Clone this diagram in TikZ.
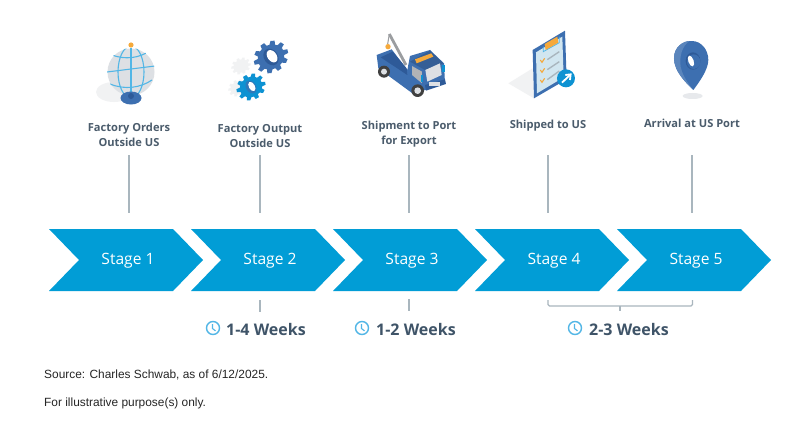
\documentclass[tikz,border=0pt]{standalone}
\usepackage{fontspec}
\setmainfont{Open Sans}
\newfontfamily\srcfont{Liberation Sans}
\definecolor{chev}{HTML}{019DD6}
\definecolor{lbl}{HTML}{4B5C6C}
\definecolor{wk}{HTML}{3F5468}
\definecolor{rule}{HTML}{A9B6BE}
\definecolor{navy}{HTML}{3D6FB0}
\definecolor{navyd}{HTML}{2E5A98}
\definecolor{sky}{HTML}{0D92D2}
\definecolor{skyl}{HTML}{52B6E6}
\definecolor{org}{HTML}{F5A93B}
\definecolor{ghost}{HTML}{F1F2F3}
\definecolor{gry}{HTML}{DDE0E4}
\tikzset{
  x=1pt,y=-1pt,
  stagebox/.style={text=white,font=\fontsize{15.6}{18}\selectfont,inner sep=0pt},
  steplabel/.style={text=lbl,font=\bfseries\fontsize{11.1}{15.2}\selectfont,align=center,inner sep=0pt},
  weeks/.style={text=wk,font=\bfseries\fontsize{16}{18}\selectfont,inner sep=0pt,anchor=west},
  srctext/.style={font=\srcfont\fontsize{11.9}{14}\selectfont,inner sep=0pt,anchor=west,text=black!85},
  tick/.style={draw=rule,line width=1.1pt},
  clockface/.style={draw=skyl,line width=1.4pt,fill=white,circle,minimum size=13pt,inner sep=0pt}
}
\newcommand{\chevron}[1]{%
  \fill[chev] (#1,229) -- (#1+124,229) -- (#1+154,260) -- (#1+124,291) -- (#1,291) -- (#1+30,260) -- cycle;}
\newcommand{\gearshape}[2]{% colour, radius
  \fill[#1] (0,0) circle[radius=#2*0.78];
  \foreach \a in {0,36,...,324}{
    \fill[#1,rotate=\a] (-#2*0.17,-#2*0.72) -- (-#2*0.12,-#2) -- (#2*0.12,-#2) -- (#2*0.17,-#2*0.72) -- cycle;}}
\newcommand{\clocksym}[2]{%
  \node[clockface] (#1) at (#2) {};
  \draw[skyl,line width=1.1pt] (#1.center) ++(-0.5,-4) -- ++(0,4.5) -- ++(3,2.4);}
\begin{document}
\begin{tikzpicture}
\useasboundingbox (0,0) rectangle (786,442);
\fill[white] (0,0) rectangle (786,442);

% chevrons
\chevron{49}\chevron{191}\chevron{333}\chevron{475}\chevron{617}
\node[stagebox] (s1) at (128,261) {Stage 1};
\node[stagebox] (s2) at (270,261) {Stage 2};
\node[stagebox] (s3) at (412,261) {Stage 3};
\node[stagebox] (s4) at (554,261) {Stage 4};
\node[stagebox] (s5) at (696,261) {Stage 5};

% labels
\node[steplabel] (l1) at (129,135) {Factory Orders\\Outside US};
\node[steplabel] (l2) at (260,136) {Factory Output\\Outside US};
\node[steplabel] (l3) at (409,134) {Shipment to Port\\for Export};
\node[steplabel] (l4) at (548,125.5) {Shipped to US};
\node[steplabel] (l5) at (692,123.5) {Arrival at US Port};

% vertical connectors
\foreach \n/\x in {1/129,2/260,3/409,4/548,5/692}{
  \coordinate (a\n) at (\x,155);
  \coordinate (b\n) at (\x,213);
  \draw[tick] (a\n) -- (b\n);
}
\coordinate (c2) at (260,300); \coordinate (d2) at (260,312);
\coordinate (c3) at (409,299); \coordinate (d3) at (409,311);
\draw[tick] (c2) -- (d2);
\draw[tick] (c3) -- (d3);
\coordinate (bl) at (548,300); \coordinate (br) at (692.5,300);
\coordinate (bm) at (620,306); \coordinate (bs) at (620,311);
\draw[tick,rounded corners=1.5pt] (bl) -- (548,306) -- (692.5,306) -- (br);
\draw[tick] (bm) -- (bs);

% durations
\clocksym{k1}{213,328}
\node[weeks] (w1) at (226,329) {1-4 Weeks};
\clocksym{k2}{362,328}
\node[weeks] (w2) at (376,329) {1-2 Weeks};
\clocksym{k3}{575,328}
\node[weeks] (w3) at (589,329) {2-3 Weeks};

% source
\node[srctext] (src1) at (44,375) {Source: Charles Schwab, as of 6/12/2025.};
\node[srctext] (src2) at (44,403) {For illustrative purpose(s) only.};

% ---- globe
\begin{scope}
  \fill[ghost] (114,92) ellipse[x radius=18,y radius=10];
  \fill[gry] (131,72) circle[radius=23.5];
  \begin{scope}
    \clip (131,72) circle[radius=24];
    \draw[skyl,line width=1.1pt] (131,72) ellipse[x radius=13,y radius=26];
    \draw[skyl,line width=1.1pt] (107,72) -- (155,66);
    \draw[skyl,line width=1.1pt] (112,55) .. controls (125,60) and (140,58) .. (149,51);
    \draw[skyl,line width=1.1pt] (110,84) .. controls (125,90) and (140,88) .. (152,80);
    \draw[skyl,line width=1.1pt] (131,46) -- (131,98);
  \end{scope}
  \fill[navy] (131,98) ellipse[x radius=10.5,y radius=6.5];
  \fill[navyd] (131,96) ellipse[x radius=3,y radius=3];
  \fill[org] (131,45) circle[radius=2.6];
\end{scope}

% ---- gears
\begin{scope}[shift={(241,66)},rotate=25,yscale=.8]
  \gearshape{ghost}{10}
\end{scope}
\begin{scope}[shift={(238,88)},rotate=25,yscale=.8]
  \gearshape{ghost}{10}
\end{scope}
\begin{scope}[shift={(271,57)},rotate=35,yscale=.85]
  \gearshape{navy}{18}
  \fill[navyd] (0,0) ellipse[x radius=7,y radius=10.5];
  \fill[white] (1.3,0) ellipse[x radius=4.6,y radius=8];
\end{scope}
\begin{scope}[shift={(251,87)},rotate=30,yscale=.85]
  \gearshape{sky}{15}
  \fill[navy!70!sky] (0,0) ellipse[x radius=5,y radius=8];
  \fill[white] (1,0) ellipse[x radius=3,y radius=6];
\end{scope}

% ---- truck (zoom coordinates)
\begin{scope}[shift={(350,20)},x=.3333pt,y=-.3333pt]
  \draw[gry!70!black,line width=2.8pt] (118,42) -- (168,135);
  \draw[gry!70!black,line width=1pt] (118,42) -- (113,72);
  \fill[org] (114,80) circle[radius=8];
  \fill[navy] (80,105) -- (85,145) -- (190,222) -- (285,190) -- (282,130) -- (240,90) -- (180,108) -- (172,150) -- (125,88) -- cycle;
  \fill[navyd] (92,112) -- (128,95) -- (170,145) -- (172,165) -- cycle;
  \fill[navy!85!black] (180,125) -- (240,92) -- (280,130) -- (225,150) -- cycle;
  \fill[gry!80!black] (186,138) -- (216,155) -- (216,190) -- (186,165) -- cycle;
  \fill[gry] (226,150) -- (270,130) -- (275,165) -- (232,185) -- cycle;
  \fill[org] (195,118) -- (244,100) -- (250,110) -- (200,130) -- cycle;
  \fill[navyd] (225,195) -- (285,178) -- (288,192) -- (228,212) -- cycle;
  \fill[sky] (277,135) rectangle (284,155);
  \fill[sky] (212,165) rectangle (219,185);
  \fill[gry] (238,185) rectangle (270,198);
  \fill[black!75] (102,155) circle[radius=18];
  \fill[gry] (102,155) circle[radius=9];
  \fill[black!75] (203,212) circle[radius=19];
  \fill[gry] (203,212) circle[radius=10];

  % ---- clipboard
  \fill[ghost] (475,190) -- (548,145) -- (552,235) -- cycle;
  \fill[navy] (548,90) -- (645,32) -- (650,178) -- (552,235) -- cycle;
  \fill[ghost!80!skyl] (558,97) -- (637,50) -- (641,172) -- (561,220) -- cycle;
  \draw[skyl,line width=.8pt] (580,80) -- (580,95) -- (628,68) -- (628,50);
  \fill[org] (584,72) -- (622,50) -- (625,68) -- (587,90) -- cycle;
  \foreach \y/\z in {125/105,155/135,185/163}{
    \draw[org,line width=1.1pt] (571,\y-5) -- (576,\y+2) -- (584,\y-10);
    \draw[rule,line width=1.4pt] (592,\y-6) -- (628,\z-10);
  }
  \fill[sky] (648,175) circle[radius=27];
  \draw[white,line width=1.8pt] (636,188) -- (660,165);
  \draw[white,line width=1.8pt] (646,165) -- (662,163) -- (660,180);
\end{scope}

% ---- map pin (zoom coordinates)
\begin{scope}[shift={(530,30)},x=.3333pt,y=-.3333pt]
  \fill[gry!70] (488,198) ellipse[x radius=30,y radius=9];
  \fill[navy] (490,180) .. controls (470,160) and (432,125) .. (432,85)
     .. controls (432,50) and (460,33) .. (485,33)
     .. controls (515,33) and (535,60) .. (535,90)
     .. controls (535,120) and (505,160) .. (490,180) -- cycle;
  \fill[navy!85!white] (490,180) .. controls (470,160) and (432,125) .. (432,85)
     .. controls (432,50) and (460,33) .. (478,33)
     .. controls (455,50) and (448,80) .. (452,110)
     .. controls (458,140) and (478,165) .. (490,180) -- cycle;
  \fill[navyd] (489,93) ellipse[x radius=22,y radius=26];
  \fill[navy] (491,95) ellipse[x radius=20,y radius=22];
  \fill[white,rotate around={20:(483,93)}] (483,93) ellipse[x radius=8,y radius=17];
\end{scope}
\end{tikzpicture}
\end{document}
